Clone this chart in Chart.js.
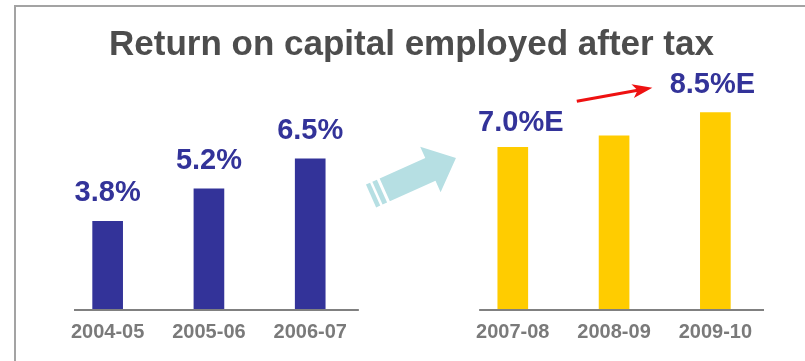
<!DOCTYPE html>
<html>
<head>
<meta charset="utf-8">
<title>Return on capital employed after tax</title>
<script src="https://cdn.jsdelivr.net/npm/chart.js@4.4.1/dist/chart.umd.min.js"></script>
<style>
  html, body { margin: 0; padding: 0; background: #fff; overflow: hidden; }
  #wrap { position: relative; width: 805px; height: 361px; }
  #frame {
    position: absolute; left: 14px; top: 5px; width: 900px; height: 500px;
    border: 2px solid #a3a3a3; box-sizing: border-box;
  }
  #chart { position: absolute; left: 0; top: 0; }
</style>
</head>
<body>
<div id="wrap">
  <div id="frame"></div>
  <canvas id="chart" width="805" height="361"></canvas>
</div>
<script>
// years: actuals, a spacer slot for the arrow, then estimates
const years = ["2004-05", "2005-06", "2006-07", "", "2007-08", "2008-09", "2009-10"];
const rocePct = [3.8, 5.2, 6.5, null, 7.0, 7.5, 8.5];
const valueLabels = ["3.8%", "5.2%", "6.5%", "", "7.0%E", "", "8.5%E"];
const barColors = ["#333399", "#333399", "#333399", null, "#FFCC00", "#FFCC00", "#FFCC00"];
const groups = [[0, 2], [4, 6]];

const FONT = "'Liberation Sans', Arial, sans-serif";

// baselines under each group of bars
const baselinePlugin = {
  id: "baselines",
  afterDatasetsDraw(chart) {
    const { ctx, chartArea } = chart;
    const x = chart.scales.x;
    const w = x.width / years.length;
    ctx.save();
    ctx.strokeStyle = "#808080";
    ctx.lineWidth = 2;
    groups.forEach(([a, b]) => {
      ctx.beginPath();
      ctx.moveTo(x.getPixelForValue(a) - w / 2 + 17, chartArea.bottom + 1);
      ctx.lineTo(x.getPixelForValue(b) + w / 2 - 2, chartArea.bottom + 1);
      ctx.stroke();
    });
    ctx.restore();
  }
};

// value labels above bars
const valueLabelPlugin = {
  id: "valueLabels",
  afterDatasetsDraw(chart, args, opts) {
    const { ctx } = chart;
    const bars = chart.getDatasetMeta(0).data;
    ctx.save();
    ctx.font = "bold 29px " + FONT;
    ctx.fillStyle = "#333399";
    ctx.textAlign = "center";
    ctx.textBaseline = "alphabetic";
    bars.forEach((bar, i) => {
      if (!valueLabels[i]) return;
      const n = opts.nudge[i] || [0, 0];
      ctx.fillText(valueLabels[i], bar.x + n[0], bar.y - 20 + n[1]);
    });
    ctx.restore();
  }
};

// arrows: big pale one between the groups, red one between the estimates
const arrowPlugin = {
  id: "arrows",
  afterDatasetsDraw(chart) {
    const { ctx, chartArea } = chart;
    const bars = chart.getDatasetMeta(0).data;
    const x = chart.scales.x;

    // pale arrow in the spacer slot
    const cx = x.getPixelForValue(3) + 2;
    const cy = chartArea.bottom - 132;
    const len = 93, ang = Math.atan2(-38, 85);
    ctx.save();
    ctx.translate(cx, cy);
    ctx.rotate(ang);
    ctx.translate(-len / 2, 0);
    ctx.fillStyle = "#b6dfe3";
    ctx.fillRect(0, -12.5, 4.5, 25);
    ctx.fillRect(7, -12.5, 5, 25);
    ctx.beginPath();
    ctx.moveTo(15, -12.5);
    ctx.lineTo(65, -12.5);
    ctx.lineTo(65, -25);
    ctx.lineTo(len, 0);
    ctx.lineTo(65, 25);
    ctx.lineTo(65, 12.5);
    ctx.lineTo(15, 12.5);
    ctx.closePath();
    ctx.fill();
    ctx.restore();

    // red arrow from the 7.0%E label towards 8.5%E
    const x0 = bars[4].x + 64, y0 = bars[4].y - 46;
    const x1 = bars[6].x - 63, y1 = bars[6].y - 25;
    const a = Math.atan2(y1 - y0, x1 - x0);
    ctx.save();
    ctx.strokeStyle = "#ee1111";
    ctx.fillStyle = "#ee1111";
    ctx.lineWidth = 3;
    ctx.beginPath();
    ctx.moveTo(x0, y0);
    ctx.lineTo(x1 - 12 * Math.cos(a), y1 - 12 * Math.sin(a));
    ctx.stroke();
    ctx.translate(x1, y1);
    ctx.rotate(a);
    ctx.beginPath();
    ctx.moveTo(0, 0);
    ctx.lineTo(-20, -7);
    ctx.lineTo(-15, 0);
    ctx.lineTo(-20, 7);
    ctx.closePath();
    ctx.fill();
    ctx.restore();
  }
};

new Chart(document.getElementById("chart"), {
  type: "bar",
  data: {
    labels: years,
    datasets: [{
      data: rocePct,
      backgroundColor: barColors,
      barThickness: 30,
      borderWidth: 0
    }]
  },
  options: {
    responsive: false,
    animation: false,
    layout: { padding: { left: 57, right: 39, top: 0, bottom: 6 } },
    scales: {
      x: {
        grid: { display: false, drawTicks: false },
        border: { display: false },
        ticks: {
          padding: 11,
          color: "#7a7a7a",
          font: { family: FONT, size: 20, weight: "bold" },
          maxRotation: 0,
          autoSkip: false
        }
      },
      y: { display: false, min: 0, max: 10 }
    },
    plugins: {
      legend: { display: false },
      tooltip: { enabled: false },
      title: {
        display: true,
        text: "Return on capital employed after tax",
        color: "#4d4d4d",
        font: { family: FONT, size: 35, weight: "bold" },
        padding: { top: 24, bottom: 12 }
      },
      valueLabels: { nudge: { 4: [8, 4], 6: [-3, 0] } }
    }
  },
  plugins: [baselinePlugin, valueLabelPlugin, arrowPlugin]
});
</script>
</body>
</html>
